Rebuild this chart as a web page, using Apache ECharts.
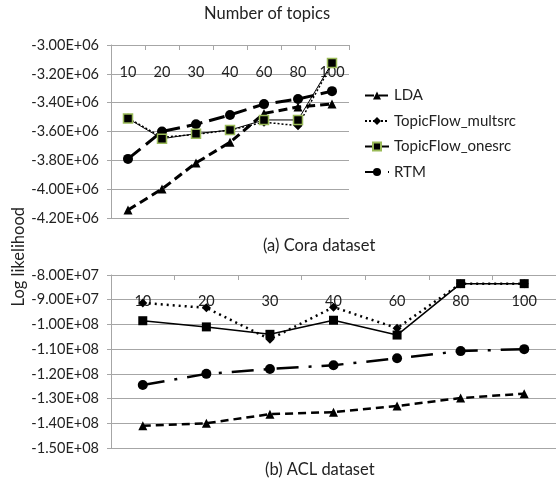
<!DOCTYPE html>
<html><head><meta charset="utf-8">
<script src="https://cdn.jsdelivr.net/npm/echarts@6/dist/echarts.min.js"></script>
<style>html,body{margin:0;padding:0;background:#fff}#c{width:556px;height:479px}</style>
</head><body><div id="c"></div>
<script>
const categories = ['10','20','30','40','60','80','100'];
// (a) Cora dataset
const coraLDA      = [-4.145e6, -3.999e6, -3.818e6, -3.675e6, -3.475e6, -3.43e6, -3.41e6];
const coraMultsrc  = [-3.506e6, -3.64e6, -3.62e6, -3.59e6, -3.535e6, -3.56e6, -3.13e6];
const coraOnesrc   = [-3.51e6, -3.65e6, -3.615e6, -3.59e6, -3.52e6, -3.52e6, -3.125e6];
const coraRTM      = [-3.79e6, -3.60e6, -3.55e6, -3.485e6, -3.41e6, -3.375e6, -3.32e6];
// (b) ACL dataset
const aclLDA       = [-1.41e8, -1.40e8, -1.363e8, -1.355e8, -1.33e8, -1.298e8, -1.28e8];
const aclMultsrc   = [-9.13e7, -9.33e7, -1.06e8, -9.3e7, -1.015e8, -8.35e7, -8.35e7];
const aclOnesrc    = [-9.85e7, -1.01e8, -1.04e8, -9.83e7, -1.043e8, -8.35e7, -8.35e7];
const aclRTM       = [-1.245e8, -1.20e8, -1.18e8, -1.165e8, -1.137e8, -1.108e8, -1.10e8];
const seriesNames = ['LDA','TopicFlow_multsrc','TopicFlow_onesrc','RTM'];

const FONT = 'Lato';
function sci(v){
  let s = Number(v).toExponential(2).toUpperCase();
  return s.replace(/E([+-])(\d)$/, 'E$10$2');
}
const gridColor = '#a6a6a6';
function xAxis(gi, margin){
  return {
    type:'category', gridIndex:gi, data:categories, position:'top',
    axisLine:{show:true, lineStyle:{color:gridColor}},
    axisTick:{show:true, inside:true, length:5, lineStyle:{color:gridColor}},
    axisLabel:{inside:true, margin:margin, color:'#222', fontSize:14.5, fontFamily:FONT},
    splitLine:{show:false}
  };
}
function yAxis(gi, min, max, interval){
  return {
    type:'value', gridIndex:gi, min:min, max:max, interval:interval,
    axisLine:{show:true, lineStyle:{color:gridColor}},
    axisTick:{show:true, length:4, lineStyle:{color:gridColor}},
    axisLabel:{formatter:sci, color:'#222', fontSize:14.5, fontFamily:FONT, margin:12},
    splitLine:{show:true, lineStyle:{color:gridColor, width:1}}
  };
}
const styles = {
  LDA:{symbol:'triangle', size:9, line:{color:'#000', width:3, type:[9,5]}},
  TopicFlow_multsrc:{symbol:'diamond', size:9, line:{color:'#000', width:1.5, type:[2,2]}},
  TopicFlow_onesrc:{symbol:'rect', size:9, line:{color:'#000', width:1, type:'solid'}, border:'#9bbb59'},
  RTM:{symbol:'circle', size:10, line:{color:'#000', width:3, type:[16,7]}}
};
function mk(name, data, gi, over){
  const st = styles[name];
  return {
    name:name, type:'line', xAxisIndex:gi, yAxisIndex:gi, data:data,
    symbol:st.symbol, symbolSize:st.size, showSymbol:true,
    lineStyle:Object.assign({}, st.line, over||{}),
    itemStyle:{color:'#000', borderColor: (gi===0 && st.border) ? st.border : '#000', borderWidth: (gi===0 && st.border)?1.5:0},
    emphasis:{disabled:true}, animation:false, z: name==='TopicFlow_onesrc'?3:2
  };
}
const chart = echarts.init(document.getElementById('c'), null, {renderer:'canvas'});
const tStyle = {fontSize:16.5, fontWeight:'normal', color:'#222', fontFamily:FONT};
chart.setOption({
  backgroundColor:'#fff',
  animation:false,
  textStyle:{fontFamily:FONT},
  title:[
    {text:'Number of topics', left:204, top:5, padding:0, textStyle:tStyle},
    {text:'(a) Cora dataset', left:263, top:237, padding:0, textStyle:tStyle},
    {text:'(b) ACL dataset', left:265, top:461, padding:0, textStyle:tStyle}
  ],
  graphic:[{type:'text', left:10, top:207, rotation:Math.PI/2,
    style:{text:'Log likelihood', fontSize:16.5, fill:'#222', fontFamily:FONT}}],
  legend:{
    data:seriesNames, orient:'vertical', left:364, top:88, padding:0, itemGap:10.5,
    itemWidth:24, itemHeight:10,
    textStyle:{fontSize:15, color:'#222', fontFamily:FONT}
  },
  grid:[
    {left:111, top:45, width:238, height:173},
    {left:111, top:275, width:455, height:173}
  ],
  xAxis:[xAxis(0, 20), xAxis(1, 19)],
  yAxis:[yAxis(0, -4.2e6, -3.0e6, 0.2e6), yAxis(1, -1.5e8, -8e7, 1e7)],
  series:[
    mk('LDA', coraLDA, 0),
    mk('TopicFlow_multsrc', coraMultsrc, 0),
    mk('TopicFlow_onesrc', coraOnesrc, 0),
    mk('RTM', coraRTM, 0),
    mk('LDA', aclLDA, 1, {width:2.5, type:[8,5]}),
    mk('TopicFlow_multsrc', aclMultsrc, 1, {width:2.5, type:[2,4]}),
    mk('TopicFlow_onesrc', aclOnesrc, 1, {width:1.5}),
    mk('RTM', aclRTM, 1, {width:2.5, type:[22,10,3,10]})
  ]
});
</script></body></html>
